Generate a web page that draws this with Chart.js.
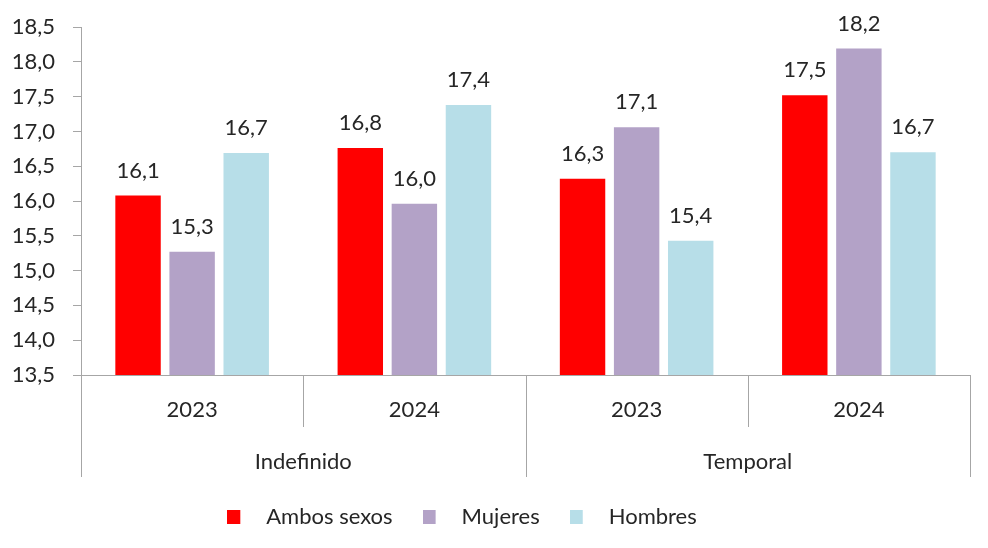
<!DOCTYPE html>
<html>
<head>
<meta charset="utf-8">
<script src="https://cdn.jsdelivr.net/npm/chart.js@4/dist/chart.umd.min.js"></script>
<style>
html,body{margin:0;padding:0;background:#fff;}
#wrap{width:988px;height:548px;}
</style>
</head>
<body>
<div id="wrap"><canvas id="c" width="988" height="548"></canvas></div>
<script>
// ---- data ----
const categories = ['2023', '2024', '2023', '2024'];
const groups = ['Indefinido', 'Indefinido', 'Temporal', 'Temporal'];
const seriesNames = ['Ambos sexos', 'Mujeres', 'Hombres'];
const ambosSexos = [16.08, 16.76, 16.32, 17.52];
const mujeres = [15.27, 15.96, 17.06, 18.19];
const hombres = [16.69, 17.38, 15.43, 16.70];
const yTicks = [13.5, 14.0, 14.5, 15.0, 15.5, 16.0, 16.5, 17.0, 17.5, 18.0, 18.5];

const colors = ['#FF0000', '#B3A2C7', '#B7DEE8'];
const FONT = 'Lato, "Open Sans", sans-serif';
const FS = 22;
const TEXT = '#262626';
const AXIS = '#A6A6A6';

const fmt = v => v.toFixed(1).replace('.', ',');

function swatch(color) {
  const c = document.createElement('canvas');
  c.width = 28; c.height = 14;
  const g = c.getContext('2d');
  g.fillStyle = color;
  g.fillRect(0, 0, 13, 14);
  return c;
}

const valueLabels = {
  id: 'valueLabels',
  afterDatasetsDraw(chart) {
    const ctx = chart.ctx;
    ctx.save();
    ctx.font = FS + 'px ' + FONT;
    ctx.fillStyle = TEXT;
    ctx.textAlign = 'center';
    ctx.textBaseline = 'middle';
    chart.data.datasets.forEach((ds, di) => {
      const meta = chart.getDatasetMeta(di);
      meta.data.forEach((el, i) => {
        ctx.fillText(fmt(ds.data[i]), el.x, el.y - 25);
      });
    });
    ctx.restore();
  }
};

const groupAxis = {
  id: 'groupAxis',
  afterLayout(chart) {
    const l = chart.legend;
    if (!l) return;
    const c = (l.left + l.right) / 2;
    const dx = 462 - c;
    l.left += dx; l.right += dx;
    const h = l.height;
    l.top = 476; l.bottom = l.top + h;
  },
  afterDraw(chart) {
    const ctx = chart.ctx;
    const xs = chart.scales.x;
    const ca = chart.chartArea;
    const n = categories.length;
    const bounds = [];
    for (let i = 0; i <= n; i++) {
      if (i === 0) bounds.push(xs.left);
      else if (i === n) bounds.push(xs.right);
      else bounds.push((xs.getPixelForValue(i - 1) + xs.getPixelForValue(i)) / 2);
    }
    ctx.save();
    ctx.strokeStyle = AXIS;
    ctx.lineWidth = 1;
    for (let i = 0; i <= n; i++) {
      const isGroupEdge = i === 0 || i === n || groups[i] !== groups[i - 1];
      const len = isGroupEdge ? 102 : 52;
      const x = Math.round(bounds[i]) + 0.5;
      ctx.beginPath();
      ctx.moveTo(x, ca.bottom);
      ctx.lineTo(x, ca.bottom + len);
      ctx.stroke();
    }
    ctx.font = FS + 'px ' + FONT;
    ctx.fillStyle = TEXT;
    ctx.textAlign = 'center';
    ctx.textBaseline = 'middle';
    for (let i = 0; i < n; i++) {
      ctx.fillText(categories[i], xs.getPixelForValue(i), ca.bottom + 35);
    }
    let s = 0;
    for (let i = 1; i <= n; i++) {
      if (i === n || groups[i] !== groups[s]) {
        ctx.fillText(groups[s], (bounds[s] + bounds[i]) / 2, ca.bottom + 87);
        s = i;
      }
    }
    ctx.restore();
  }
};

new Chart(document.getElementById('c'), {
  type: 'bar',
  data: {
    labels: categories,
    datasets: [
      { label: seriesNames[0], data: ambosSexos, backgroundColor: colors[0] },
      { label: seriesNames[1], data: mujeres, backgroundColor: colors[1] },
      { label: seriesNames[2], data: hombres, backgroundColor: colors[2] }
    ]
  },
  options: {
    responsive: false,
    animation: false,
    devicePixelRatio: 1,
    datasets: { bar: { categoryPercentage: 0.73, barPercentage: 0.84 } },
    layout: { padding: { top: 20, right: 18, left: 0, bottom: 0 } },
    scales: {
      x: {
        grid: { display: false },
        border: { display: true, color: AXIS, width: 1 },
        ticks: { display: false },
        afterFit(s) { s.height = 111; }
      },
      y: {
        min: 13.5, max: 18.5,
        afterBuildTicks(s) { s.ticks = yTicks.map(v => ({ value: v })); },
        grid: { display: true, drawOnChartArea: false, drawTicks: true, tickLength: 8, color: AXIS },
        border: { display: true, color: AXIS, width: 1 },
        ticks: {
          padding: 18,
          color: TEXT,
          font: { family: FONT, size: FS, lineHeight: 0.82 },
          callback: v => fmt(v)
        },
        afterFit(s) { s.width = 81; }
      }
    },
    plugins: {
      tooltip: { enabled: false },
      legend: {
        position: 'bottom',
        labels: {
          usePointStyle: true,
          pointStyleWidth: 28,
          padding: 30,
          color: TEXT,
          font: { family: FONT, size: FS },
          generateLabels(chart) {
            const items = Chart.defaults.plugins.legend.labels.generateLabels(chart);
            items.forEach((it, i) => { it.pointStyle = swatch(colors[i]); });
            return items;
          }
        }
      }
    }
  },
  plugins: [valueLabels, groupAxis]
});
</script>
</body>
</html>
